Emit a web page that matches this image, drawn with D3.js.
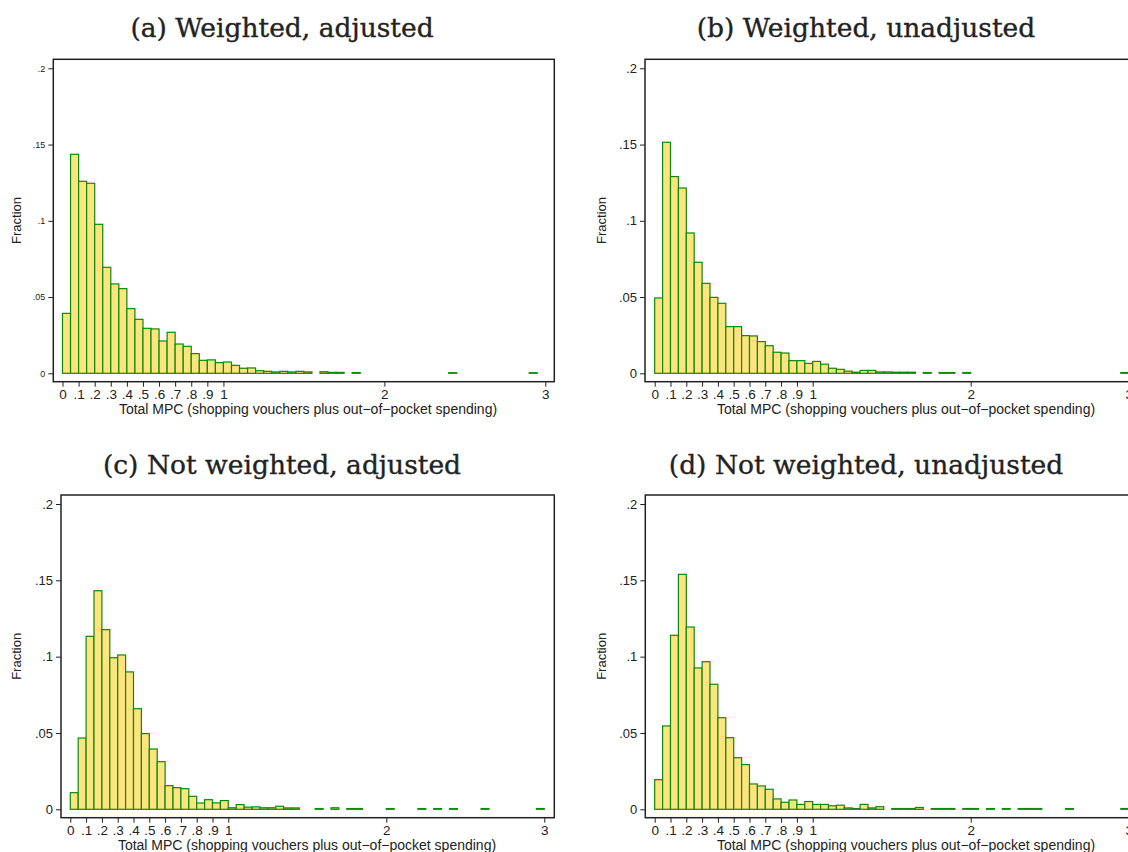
<!DOCTYPE html>
<html>
<head>
<meta charset="utf-8">
<title>Total MPC histograms</title>
<style type="text/css">
    body { margin: 0; background: #fff; }
    .frame { fill: none; stroke: #222; stroke-width: 1.5px; }
    .bar { fill: #fde47f; stroke: #0b8a0b; stroke-width: 1.2px; }
    .title { font-family: "DejaVu Serif", serif; font-size: 26.5px; fill: #222; stroke: #222; stroke-width: 0.35px; }
    .axis text { font-family: "Liberation Sans", Arial, sans-serif; fill: #222; }
    .axis line { stroke: #222; }
    .lab { font-family: "Liberation Sans", Arial, sans-serif; fill: #222; }
</style>
</head>
<body>
<div id="chart"></div>
<script src="https://cdn.jsdelivr.net/npm/d3@7"></script>
<script>
    // histogram bins: start at 0, width .05, 60 bins up to 3
    var binWidth = 0.05;

    var weightedAdjusted = [
        0.0393, 0.1436, 0.1259, 0.1246, 0.0977, 0.0695, 0.0586, 0.0555, 0.0424, 0.0354,
        0.0295, 0.0291, 0.0212, 0.0269, 0.0192, 0.0177, 0.0129, 0.0085, 0.0088, 0.0070,
        0.0074, 0.0052, 0.0033, 0.0035, 0.0017, 0.0013, 0.0009, 0.0013, 0.0009, 0.0013,
        0.0009, 0, 0.0010, 0.0006, 0.0006, 0, 0.0005, 0, 0, 0,
        0, 0, 0, 0, 0, 0, 0, 0, 0.0004, 0,
        0, 0, 0, 0, 0, 0, 0, 0, 0.0004, 0
    ];
    var weightedUnadjusted = [
        0.0494, 0.1515, 0.1290, 0.1215, 0.0920, 0.0728, 0.0590, 0.0498, 0.0459, 0.0306,
        0.0306, 0.0247, 0.0245, 0.0208, 0.0181, 0.0138, 0.0133, 0.0083, 0.0083, 0.0065,
        0.0078, 0.0060, 0.0033, 0.0026, 0.0014, 0.0007, 0.0019, 0.0019, 0.0009, 0.0009,
        0.0007, 0.0007, 0.0007, 0, 0.0005, 0, 0.0005, 0.0005, 0, 0.0005,
        0, 0, 0, 0, 0, 0, 0, 0, 0, 0,
        0, 0, 0, 0, 0, 0, 0, 0, 0, 0.0005
    ];
    var unweightedAdjusted = [
        0.0109, 0.0467, 0.1133, 0.1432, 0.1177, 0.0993, 0.1011, 0.0900, 0.0659, 0.0496,
        0.0395, 0.0312, 0.0155, 0.0142, 0.0135, 0.0085, 0.0041, 0.0063, 0.0042, 0.0057,
        0.0010, 0.0031, 0.0014, 0.0016, 0.0010, 0.0010, 0.0020, 0.0009, 0.0009, 0,
        0, 0.0005, 0, 0.0010, 0, 0.0005, 0.0005, 0, 0, 0,
        0.0005, 0, 0, 0, 0.0005, 0, 0.0005, 0, 0.0005, 0,
        0, 0, 0.0005, 0, 0, 0, 0, 0, 0, 0.0005
    ];
    var unweightedUnadjusted = [
        0.0194, 0.0546, 0.1140, 0.1539, 0.1194, 0.0926, 0.0967, 0.0819, 0.0600, 0.0469,
        0.0338, 0.0293, 0.0166, 0.0153, 0.0131, 0.0068, 0.0046, 0.0061, 0.0032, 0.0051,
        0.0032, 0.0032, 0.0023, 0.0027, 0.0009, 0.0005, 0.0032, 0.0009, 0.0017, 0,
        0.0005, 0.0005, 0.0005, 0.0012, 0, 0.0005, 0.0005, 0.0005, 0, 0.0005,
        0.0005, 0, 0.0005, 0, 0.0005, 0, 0.0005, 0.0005, 0.0005, 0,
        0, 0, 0.0005, 0, 0, 0, 0, 0, 0, 0.0005
    ];

    var titles = ["(a) Weighted, adjusted", "(b) Weighted, unadjusted",
                  "(c) Not weighted, adjusted", "(d) Not weighted, unadjusted"];
    var xTicks = [0, .1, .2, .3, .4, .5, .6, .7, .8, .9, 1, 2, 3];
    var yTicks = [0, .05, .1, .15, .2];
    var xTitle = "Total MPC (shopping vouchers plus out\u2212of\u2212pocket spending)";
    var yTitle = "Fraction";

    var width = 1128, height = 852;

    //  layout per panel: frame box, where 0..3 and 0..0.2 land, label spots
    var panels = [
        { values: weightedAdjusted, title: titles[0], titleX: 282, titleY: 37,
          frame: [53.3, 59.3, 554.3, 381.7], x0: 62.5, x3: 545.3, yb: 373.3, yt: 68.3,
          tickFont: 9, xLabX: 308, xLabY: 414, yLabX: 16.5 },
        { values: weightedUnadjusted, title: titles[1], titleX: 866, titleY: 37,
          frame: [645, 59.3, 1136, 381.7], x0: 654.7, x3: 1128.7, yb: 373.3, yt: 68.3,
          tickFont: 13, xLabX: 906, xLabY: 414, yLabX: 601.5 },
        { values: unweightedAdjusted, title: titles[2], titleX: 282, titleY: 474,
          frame: [61, 495, 554.3, 817.7], x0: 70.3, x3: 544.3, yb: 809.3, yt: 504,
          tickFont: 13, xLabX: 307, xLabY: 850, yLabX: 16.5 },
        { values: unweightedUnadjusted, title: titles[3], titleX: 866, titleY: 474,
          frame: [645.3, 495, 1136, 817.7], x0: 654.7, x3: 1128.7, yb: 809.3, yt: 504,
          tickFont: 13, xLabX: 906, xLabY: 850, yLabX: 601.5 }
    ];

    var svg = d3.select("#chart").append("svg")
        .attr("width", width)
        .attr("height", height);

    //  Stata style labels: .05 instead of 0.05
    var fmt = function(d) { return String(d).replace(/^0\./, "."); };

    panels.forEach(function(p) {
        var g = svg.append("g");
        var f = p.frame;

        var x = d3.scaleLinear().domain([0, 3]).range([p.x0, p.x3]);
        var y = d3.scaleLinear().domain([0, 0.2]).range([p.yb, p.yt]);

        g.append("text")
            .attr("class", "title")
            .attr("x", p.titleX)
            .attr("y", p.titleY)
            .attr("text-anchor", "middle")
            .text(p.title);

        //  bars
        var bins = p.values.map(function(v, i) { return { x0: i * binWidth, v: v }; })
            .filter(function(d) { return d.v > 0; });

        g.selectAll("rect.bar")
            .data(bins)
            .enter().append("rect")
                .attr("class", "bar")
                .attr("x", d => x(d.x0))
                .attr("width", d => x(d.x0 + binWidth) - x(d.x0))
                .attr("y", d => y(d.v))
                .attr("height", d => y(0) - y(d.v));

        g.append("rect")
            .attr("class", "frame")
            .attr("x", f[0]).attr("y", f[1])
            .attr("width", f[2] - f[0]).attr("height", f[3] - f[1]);

        //  axes
        var yAxis = g.append("g")
            .attr("class", "axis")
            .attr("transform", "translate(" + f[0] + ",0)")
            .call(d3.axisLeft(y).tickValues(yTicks).tickFormat(fmt).tickSize(5).tickPadding(3));
        yAxis.select(".domain").remove();
        yAxis.selectAll("text").style("font-size", p.tickFont + "px");

        var xAxis = g.append("g")
            .attr("class", "axis")
            .attr("transform", "translate(0," + f[3] + ")")
            .call(d3.axisBottom(x).tickValues(xTicks).tickFormat(fmt).tickSize(5).tickPadding(3));
        xAxis.select(".domain").remove();
        xAxis.selectAll("text").style("font-size", "13.5px");

        g.append("text")
            .attr("class", "lab")
            .attr("x", p.xLabX)
            .attr("y", p.xLabY)
            .attr("text-anchor", "middle")
            .style("font-size", "14px")
            .text(xTitle);

        g.append("text")
            .attr("class", "lab")
            .attr("transform", "translate(" + p.yLabX + "," + ((f[1] + f[3]) / 2) + ") rotate(-90)")
            .attr("dy", "0.35em")
            .attr("text-anchor", "middle")
            .style("font-size", "13px")
            .text(yTitle);
    });
</script>
</body>
</html>
